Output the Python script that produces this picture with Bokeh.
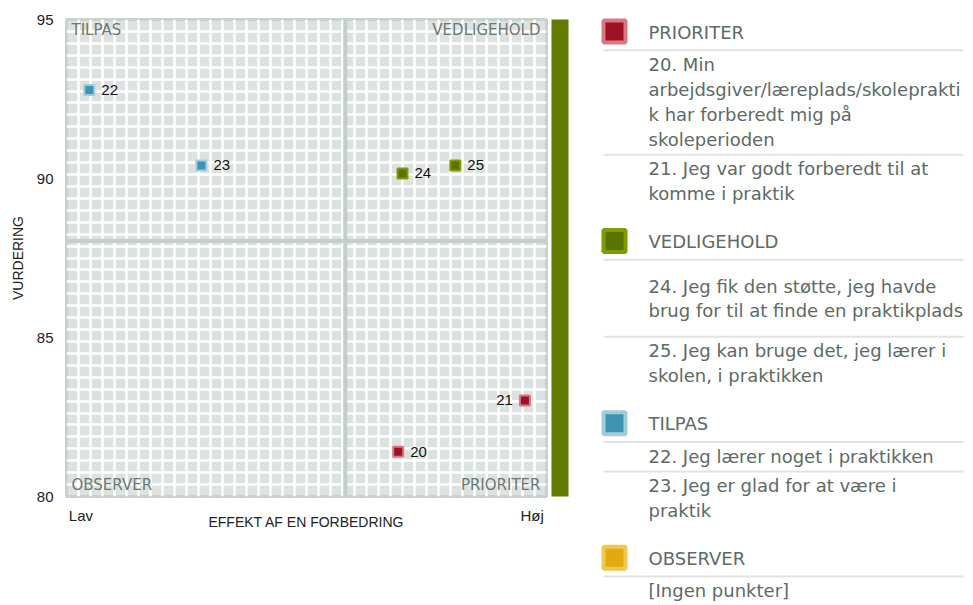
import numpy as np
from bokeh.plotting import figure
from bokeh.models import Range1d, FixedTicker, Span, ColumnDataSource
from bokeh.layouts import row
from bokeh.embed import file_html
from bokeh.resources import INLINE
from bokeh.core.properties import value

# ---------------- data ----------------
point_ids = ["20", "21", "22", "23", "24", "25"]
effekt = [69.1, 95.5, 4.75, 28.1, 70.0, 81.0]
vurdering = [81.41, 83.02, 92.78, 90.41, 90.16, 90.41]
point_group = ["PRIORITER", "PRIORITER", "TILPAS", "TILPAS", "VEDLIGEHOLD", "VEDLIGEHOLD"]

y_ticks = [80, 85, 90, 95]
x_tick_labels = ["Lav", "Høj"]
x_title = "EFFEKT AF EN FORBEDRING"
y_title = "VURDERING"

quadrant_names = ["TILPAS", "VEDLIGEHOLD", "OBSERVER", "PRIORITER"]

legend_groups = ["PRIORITER", "VEDLIGEHOLD", "TILPAS", "OBSERVER"]
legend_prioriter = ["20. Min\narbejdsgiver/læreplads/skoleprakti\nk har forberedt mig på\nskoleperioden",
                    "21. Jeg var godt forberedt til at\nkomme i praktik"]
legend_vedligehold = ["24. Jeg fik den støtte, jeg havde\nbrug for til at finde en praktikplads",
                      "25. Jeg kan bruge det, jeg lærer i\nskolen, i praktikken"]
legend_tilpas = ["22. Jeg lærer noget i praktikken",
                 "23. Jeg er glad for at være i\npraktik"]
legend_observer = ["[Ingen punkter]"]
legend_items = [legend_prioriter, legend_vedligehold, legend_tilpas, legend_observer]

fill_colors = {"PRIORITER": "#9c1226", "VEDLIGEHOLD": "#5b7300", "TILPAS": "#3f93b3", "OBSERVER": "#e2aa12"}
edge_colors = {"PRIORITER": "#d9787f", "VEDLIGEHOLD": "#7d9e00", "TILPAS": "#a2ccdb", "OBSERVER": "#f1c84e"}

# ---------------- chart ----------------
XMIN, XMAX, YMIN, YMAX = 0, 100, 80, 95
W1, H = 549, 605
ML, MR, MT = 66, 3, 19
FRAME_H = 477
MB = H - MT - FRAME_H
px_x = (XMAX - XMIN) / (W1 - ML - MR)
px_y = (YMAX - YMIN) / FRAME_H

p = figure(width=W1, height=H, x_range=Range1d(XMIN, XMAX), y_range=Range1d(YMIN, YMAX),
           output_backend="svg", toolbar_location=None,
           min_border_left=ML, min_border_right=MR, min_border_top=MT, min_border_bottom=MB)
p.frame_align = False
p.background_fill_color = "#dce2df"
p.border_fill_color = "white"
p.outline_line_color = "#c8d2cc"
p.outline_line_width = 3

p.xgrid.ticker = FixedTicker(ticks=list(np.linspace(XMIN, XMAX, 41)))
p.ygrid.ticker = FixedTicker(ticks=list(np.linspace(YMIN, YMAX, 41)))
for g in (p.xgrid, p.ygrid):
    g.grid_line_color = "white"
    g.grid_line_width = 2.5
    g.grid_line_alpha = 1.0

mean_x = float(np.mean(effekt))
mean_y = float(np.mean(vurdering))
p.add_layout(Span(location=mean_x, dimension="height", line_color="#c5cfc9", line_width=4, level="underlay"))
p.add_layout(Span(location=mean_y, dimension="width", line_color="#c5cfc9", line_width=4, level="underlay"))

# axes
for ax in (p.xaxis, p.yaxis):
    ax.axis_line_color = None
    ax.major_tick_line_color = None
    ax.minor_tick_line_color = None
    ax.major_tick_out = 0
    ax.major_tick_in = 0
    ax.major_label_text_font = "Liberation Sans"
    ax.major_label_text_font_size = "15px"
    ax.major_label_text_color = "#222222"
    ax.axis_label_text_font = "Liberation Sans"
    ax.axis_label_text_font_size = "14px"
    ax.axis_label_text_font_style = "normal"
    ax.axis_label_text_color = "#222222"

p.yaxis.ticker = FixedTicker(ticks=y_ticks)
p.yaxis.major_label_standoff = 13
p.yaxis.axis_label = y_title
p.yaxis.axis_label_standoff = 8

lav_pos = XMIN + 3
hoj_pos = XMAX - 3
p.xaxis.ticker = FixedTicker(ticks=[lav_pos, hoj_pos])
p.xaxis.major_label_overrides = {lav_pos: x_tick_labels[0], hoj_pos: x_tick_labels[1]}
p.xaxis.major_label_standoff = 10
p.xaxis.axis_label = x_title
p.xaxis.axis_label_standoff = -13

# quadrant labels (cap centre ~10px inside the frame edges)
qx = [XMIN + 5 * px_x, XMAX - 6 * px_x, XMIN + 5 * px_x, XMAX - 6 * px_x]
qy = [YMAX - 10 * px_y, YMAX - 10 * px_y, YMIN + 11.5 * px_y, YMIN + 11.5 * px_y]
qa = ["left", "right", "left", "right"]
for name, x, y, a in zip(quadrant_names, qx, qy, qa):
    p.text(x=[x], y=[y], text=[name], text_align=a, text_baseline="middle",
           text_font=value("DejaVu Sans"), text_font_size="15px", text_color="#6c7873")

# points
src = ColumnDataSource(dict(
    x=effekt, y=vurdering, id=point_ids,
    fill=[fill_colors[g] for g in point_group],
    edge=[edge_colors[g] for g in point_group],
))
p.scatter(x="x", y="y", source=src, marker="square", size=10,
          fill_color="fill", line_color="edge", line_width=2)

right_idx = [i for i, xv in enumerate(effekt) if xv <= 90]
left_idx = [i for i, xv in enumerate(effekt) if xv > 90]
p.text(x=[effekt[i] + 12 * px_x for i in right_idx], y=[vurdering[i] for i in right_idx],
       text=[point_ids[i] for i in right_idx], text_align="left", text_baseline="middle",
       text_font=value("Liberation Sans"), text_font_size="15px", text_color="#111111")
p.text(x=[effekt[i] - 12 * px_x for i in left_idx], y=[vurdering[i] for i in left_idx],
       text=[point_ids[i] for i in left_idx], text_align="right", text_baseline="middle",
       text_font=value("Liberation Sans"), text_font_size="15px", text_color="#111111")

# ---------------- legend panel (1 unit = 1 px) ----------------
W2 = 416
lf = figure(width=W2, height=H, x_range=Range1d(0, W2), y_range=Range1d(H, 0),
            output_backend="svg", toolbar_location=None,
            x_axis_location=None, y_axis_location=None, min_border=0)
lf.frame_align = False
lf.outline_line_color = None
lf.xgrid.visible = False
lf.ygrid.visible = False
lf.background_fill_color = "white"

# olive side bar next to the chart
lf.quad(left=[2], right=[19], top=[MT], bottom=[MT + FRAME_H], fill_color="#617a00", line_color=None)

FS = 18
cap_mid = 0.365 * FS + 1.3      # baseline -> position used with 'middle'
sq_x, txt_x, sep_x0, sep_x1 = 65, 99, 54, 414
line_h = 25.0
first_gap = 22.0     # separator -> first baseline
after_gap = 7.5      # last baseline -> separator
group_gap = 26.4     # last baseline of a group -> next square top
top = 18.0
tx, ty, tt = [], [], []
sy = []
sq_y, sq_f, sq_e = [], [], []
for gname, items in zip(legend_groups, legend_items):
    sq_y.append(top + 13)
    sq_f.append(fill_colors[gname])
    sq_e.append(edge_colors[gname])
    tx.append(txt_x); ty.append(top + 21.5 - cap_mid); tt.append(gname)
    sep = top + 31.7
    sy.append(sep)
    for k, item in enumerate(items):
        lines = item.split("\n")
        tall = item.startswith("24.")          # this row is drawn in a taller box
        pad_top = 13.0 if tall else 0.0
        pad_bot = 10.5 if tall else 0.0
        lh = 24.0 if tall else line_h
        base0 = sep + first_gap + pad_top
        for j, ln in enumerate(lines):
            tx.append(txt_x); ty.append(base0 + j * lh - cap_mid); tt.append(ln)
        last_base = base0 + (len(lines) - 1) * lh
        if k < len(items) - 1:
            sep = last_base + after_gap + pad_bot
            sy.append(sep)
    top = last_base + group_gap

lf.segment(x0=[sep_x0] * len(sy), x1=[sep_x1] * len(sy), y0=sy, y1=sy, line_color="#e1e3e2", line_width=2)
lf.rect(x=[sq_x] * len(sq_y), y=sq_y, width=22, height=22, fill_color=sq_f, line_color=sq_e, line_width=4)
lf.text(x=tx, y=ty, text=tt, text_align="left", text_baseline="middle",
        text_font=value("DejaVu Sans"), text_font_size=f"{FS}px", text_color="#5d6a65")

layout = row(p, lf)
open("out.html", "w").write(file_html(layout, INLINE))
